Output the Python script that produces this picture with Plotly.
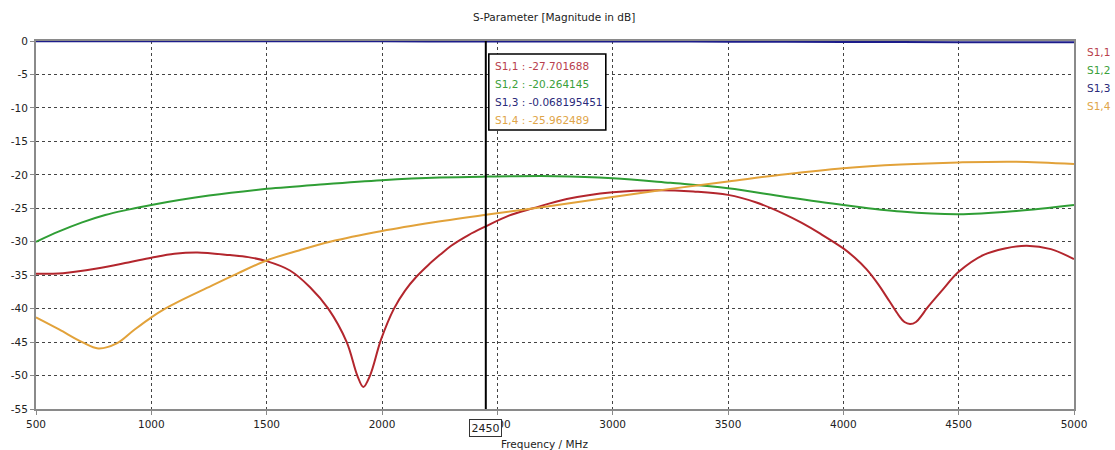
import plotly.graph_objects as go

# S-parameter magnitudes (dB) versus frequency (MHz)
f_s11 = [500, 617, 764, 900, 1000, 1100, 1200, 1341, 1420, 1500, 1601, 1688, 1767, 1847, 1893, 1919,
         1948, 1996, 2052, 2100, 2150, 2200, 2250, 2300, 2375, 2450, 2550, 2655, 2801, 3000, 3200,
         3350, 3500, 3620, 3740, 3820, 3900, 4000, 4050, 4100, 4150, 4200, 4240, 4265, 4289, 4315,
         4340, 4361, 4430, 4500, 4606, 4700, 4795, 4900, 5000]
s11 = [-34.8, -34.7, -34.0, -33.1, -32.4, -31.8, -31.6, -32.0, -32.3, -32.9, -34.3, -36.8, -40.0, -45.0, -50.0, -51.7,
       -50.0, -44.6, -40.0, -37.3, -35.2, -33.5, -32.0, -30.6, -29.0, -27.701688, -26.1, -25.0, -23.6, -22.6, -22.3,
       -22.5, -23.0, -24.1, -25.8, -27.2, -28.8, -31.0, -32.4, -34.1, -36.3, -38.9, -41.0, -42.0, -42.3, -42.0,
       -41.0, -40.0, -37.2, -34.5, -32.0, -31.0, -30.6, -31.1, -32.6]

f_s12 = [500, 600, 700, 800, 900, 1000, 1250, 1500, 1750, 2000, 2250, 2450, 2750, 3000, 3250,
         3500, 3750, 4000, 4250, 4500, 4750, 5000]
s12 = [-30.0, -28.45, -27.1, -26.0, -25.2, -24.5, -23.1, -22.1, -21.4, -20.8, -20.4, -20.264145, -20.2, -20.5, -21.2,
       -22.0, -23.3, -24.5, -25.5, -25.9, -25.4, -24.5]

f_s13 = [500, 1000, 1500, 2000, 2450, 3000, 3500, 4000, 4500, 5000]
s13 = [-0.02, -0.03, -0.04, -0.05, -0.068195451, -0.08, -0.1, -0.14, -0.18, -0.2]

f_s14 = [500, 600, 700, 770, 850, 925, 1000, 1060, 1120, 1241, 1370, 1500, 1640, 1775, 2000, 2225,
         2450, 2700, 3000, 3250, 3500, 3750, 4000, 4250, 4500, 4750, 5000]
s14 = [-41.3, -43.1, -45.0, -45.95, -45.2, -43.2, -41.3, -40.0, -38.9, -36.9, -34.8, -32.8, -31.3, -30.0, -28.4, -27.1,
       -25.962489, -24.8, -23.3, -22.1, -21.0, -19.9, -19.0, -18.45, -18.15, -18.05, -18.4]

names = ["S1,1", "S1,2", "S1,3", "S1,4"]
line_colors = ["#b3262d", "#2f9e35", "#1c1c8a", "#e2a23a"]
text_colors = ["#b8404c", "#3aa03a", "#2a2a7a", "#e0a548"]

x_ticks = [500, 1000, 1500, 2000, 2500, 3000, 3500, 4000, 4500, 5000]
y_ticks = [0, -5, -10, -15, -20, -25, -30, -35, -40, -45, -50, -55]

marker_freq = 2450
marker_text = ["-27.701688", "-20.264145", "-0.068195451", "-25.962489"]

FONT = "DejaVu Sans"

fig = go.Figure()
series = [(f_s11, s11), (f_s12, s12), (f_s13, s13), (f_s14, s14)]
for (fx, fy), name, col in zip(series, names, line_colors):
    fig.add_trace(go.Scatter(
        x=fx, y=fy, mode="lines", name=name,
        line=dict(color=col, width=2, shape="spline", smoothing=1.0),
        showlegend=False, hoverinfo="skip",
    ))

# marker line at the selected frequency
fig.add_shape(type="line", xref="x", yref="y", x0=marker_freq, x1=marker_freq, y0=0, y1=-55,
              line=dict(color="black", width=2), layer="above")

# marker readout box
fig.add_shape(type="rect", xref="x", yref="y", xsizemode="pixel", ysizemode="pixel",
              xanchor=marker_freq, yanchor=0, x0=3, x1=120, y0=-13, y1=-89,
              line=dict(color="black", width=1.6), fillcolor="white", layer="above")
for i, (name, txt, col) in enumerate(zip(names, marker_text, text_colors)):
    fig.add_annotation(x=marker_freq, y=0, xref="x", yref="y", xanchor="left", yanchor="middle",
                       xshift=7, yshift=-(25 + 18 * i), showarrow=False,
                       text=f"{name} : {txt}", font=dict(family=FONT, size=10.5, color=col))

# series labels on the right
for i, (name, col) in enumerate(zip(names, text_colors)):
    fig.add_annotation(x=1, y=0, xref="paper", yref="y", xanchor="left", yanchor="middle",
                       xshift=11, yshift=-(11 + 18 * i), showarrow=False,
                       text=name, font=dict(family=FONT, size=10.5, color=col))

# marker frequency label below the axis
fig.add_annotation(x=marker_freq, y=0, xref="x", yref="paper", yanchor="top",
                   yshift=-10, showarrow=False, text=str(marker_freq),
                   font=dict(family=FONT, size=11, color="#222"),
                   bgcolor="white", bordercolor="#333", borderwidth=1, borderpad=1.5)

# axis title
fig.add_annotation(x=0.49, y=0, xref="paper", yref="paper", yanchor="top", yshift=-27,
                   showarrow=False, text="Frequency / MHz",
                   font=dict(family=FONT, size=10.5, color="#222"))

fig.update_layout(
    width=1115, height=450,
    margin=dict(l=36, r=41, t=41, b=41),
    paper_bgcolor="white", plot_bgcolor="white",
    title=dict(text="S-Parameter [Magnitude in dB]", x=0.497, xanchor="center", y=0.962, yanchor="middle",
               font=dict(family=FONT, size=10.5, color="#222")),
    font=dict(family=FONT, size=10.5, color="#222"),
)
fig.update_xaxes(range=[500, 5000], tickvals=x_ticks, ticktext=[str(v) for v in x_ticks],
                 showgrid=True, gridcolor="#444", griddash="dot", gridwidth=1,
                 showline=True, linecolor="#8a8a8a", linewidth=2, mirror=True,
                 ticks="outside", ticklen=4, tickcolor="#8a8a8a", zeroline=False)
fig.update_yaxes(range=[-55, 0], tickvals=y_ticks, ticktext=[str(v) for v in y_ticks],
                 showgrid=True, gridcolor="#444", griddash="dot", gridwidth=1,
                 showline=True, linecolor="#8a8a8a", linewidth=2, mirror=True,
                 ticks="outside", ticklen=4, tickcolor="#8a8a8a", zeroline=False)

fig.write_html("out.html")
